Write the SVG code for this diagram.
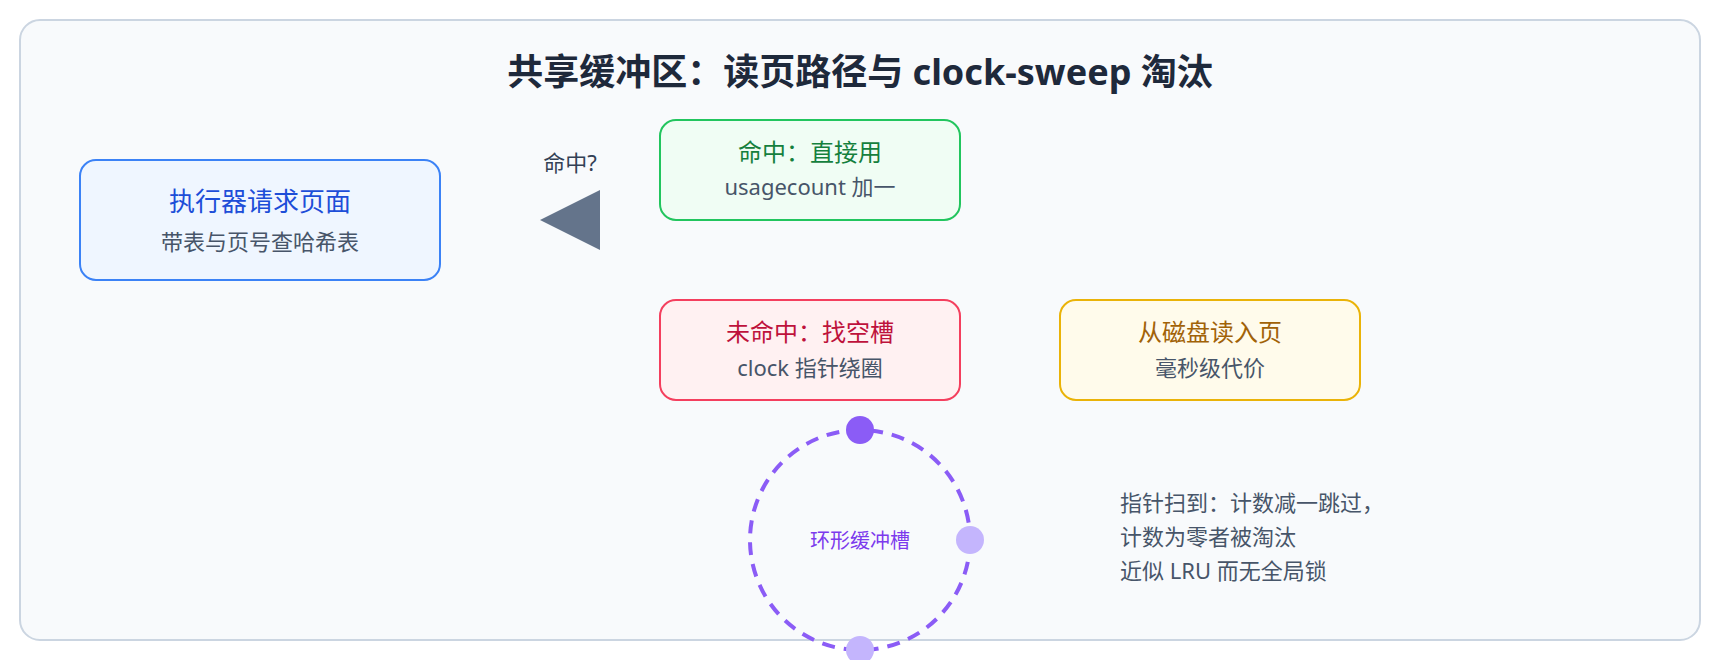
<svg xmlns="http://www.w3.org/2000/svg" width="1720" height="660" viewBox="0 0 1720 660">
<style>
text{font-family:"Noto Sans","Noto Sans CJK SC",sans-serif}
.node{stroke-width:2}
.t{font-size:24px;text-anchor:middle}
.s{font-size:22px;text-anchor:middle;fill:#475569}
.note{font-size:22px;fill:#475569}
</style>
<rect x="0" y="0" width="1720" height="660" fill="#ffffff"/>
<rect x="20" y="20" width="1680" height="620" rx="20" fill="#f8fafc" stroke="#cbd5e1" stroke-width="2"/>
<text x="860" y="85" text-anchor="middle" font-size="36" font-weight="700" fill="#1e293b">共享缓冲区：读页路径与 clock-sweep 淘汰</text>
<g id="connectors">
<polygon points="540,220 600,190 600,250" fill="#64748b"/>
<text x="570" y="171" text-anchor="middle" font-size="22" fill="#334155">命中?</text>
</g>
<g id="executor">
<rect class="node" x="80" y="160" width="360" height="120" rx="16" fill="#eff6ff" stroke="#3b82f6"/>
<text class="t" x="260" y="211" style="font-size:26px" fill="#1d4ed8">执行器请求页面</text>
<text class="s" x="260" y="250">带表与页号查哈希表</text>
</g>
<g id="hit">
<rect class="node" x="660" y="120" width="300" height="100" rx="16" fill="#f0fdf4" stroke="#22c55e"/>
<text class="t" x="810" y="161" fill="#15803d">命中：直接用</text>
<text class="s" x="810" y="195">usagecount 加一</text>
</g>
<g id="miss">
<rect class="node" x="660" y="300" width="300" height="100" rx="16" fill="#fff1f2" stroke="#f43f5e"/>
<text class="t" x="810" y="341" fill="#be123c">未命中：找空槽</text>
<text class="s" x="810" y="376">clock 指针绕圈</text>
</g>
<g id="disk">
<rect class="node" x="1060" y="300" width="300" height="100" rx="16" fill="#fffbeb" stroke="#eab308"/>
<text class="t" x="1210" y="341" fill="#a16207">从磁盘读入页</text>
<text class="s" x="1210" y="376">毫秒级代价</text>
</g>
<g id="ring">
<circle cx="860" cy="540" r="110" fill="none" stroke="#8b5cf6" stroke-width="4" stroke-dasharray="13 9"/>
<circle cx="860" cy="430" r="14" fill="#8b5cf6"/>
<circle cx="970" cy="540" r="14" fill="#c4b5fd"/>
<circle cx="860" cy="650" r="14" fill="#c4b5fd"/>
<text x="860" y="548" text-anchor="middle" font-size="20" fill="#7c3aed">环形缓冲槽</text>
</g>
<g id="note">
<text class="note" x="1120" y="511">指针扫到：计数减一跳过，</text>
<text class="note" x="1120" y="545">计数为零者被淘汰</text>
<text class="note" x="1120" y="579">近似 LRU 而无全局锁</text>
</g>
</svg>
